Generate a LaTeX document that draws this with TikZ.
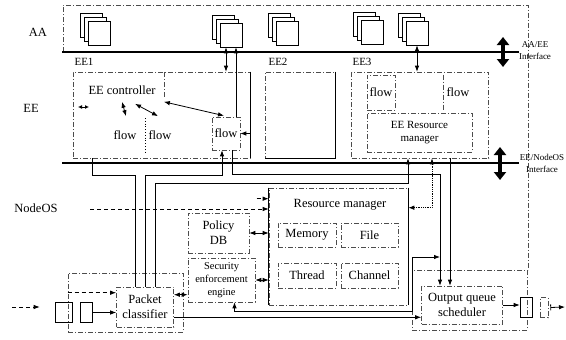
\documentclass[tikz,border=0pt]{standalone}
\usepackage{fontspec}
\setmainfont{Liberation Serif}
\usetikzlibrary{arrows.meta,calc,positioning}

\begin{document}
\begin{tikzpicture}[x=1pt,y=-1pt,thick,
  >={Latex[length=6pt,width=4.5pt]},
  txt/.style={font=\fontsize{12.5}{15}\selectfont,inner sep=1pt,align=center},
  eetxt/.style={font=\fontsize{11}{13}\selectfont,inner sep=1pt},
  iftxt/.style={font=\fontsize{9}{12}\selectfont,inner sep=0pt,align=center},
  dbox/.style={draw=black!70,dash pattern=on 5pt off 2pt on 1pt off 2pt,line width=0.6pt,inner sep=0pt},
  box/.style={dbox,txt},
  qbox/.style={draw,line width=0.6pt,inner sep=0pt,minimum height=20},
  app/.style={draw,fill=white,line width=0.6pt,minimum width=22,minimum height=24,inner sep=0pt},
  iface/.style={line width=1.4pt},
  fat/.style={line width=3.5pt,{Triangle[length=8pt,width=12pt]}-{Triangle[length=8pt,width=12pt]}},
  dline/.style={dash pattern=on 4pt off 3pt},
]
\useasboundingbox (0,0) rectangle (566,340);

% layers
\node[txt] (aa) at (38,32) {AA};
\node[txt] (ee) at (31,108) {EE};
\node[txt] (nos) at (36,208) {NodeOS};
\draw[dbox] (63,52) -- (63,5) -- (528,5) -- (528,270);

% active applications
\foreach \x/\y [count=\i] in {99/33,231/35,287/33,372/32,417/33}{
  \node[app] at ({\x-8},{\y-8}) {};
  \node[app] at ({\x-4},{\y-4}) {};
  \node[app] (app\i) at (\x,\y) {};
}

% interfaces
\node[iftxt] (ifa) at (535,51) {AA/EE\\Interface};
\node[iftxt] (ifb) at (542,163) {EE/NodeOS\\Interface};
\coordinate (aaL) at (62,52);
\coordinate (eeL) at (62,163);
\draw[iface] (aaL) -- (aaL -| ifa.west);
\draw[iface] (eeL) -- (eeL -| ifb.west);
\draw[fat] (503,37) -- (503,67);
\draw[fat] (500,147) -- (500,180);

% execution environments
\node[dbox,minimum width=177,minimum height=86] (ee1) at (161.5,115) {};
\draw (ee1.north east) -- (ee1.south east);
\node[dbox,minimum width=70,minimum height=86] (ee2) at (300,115) {};
\draw (ee2.north east) -- (ee2.south east) -- (ee2.south west);
\node[dbox,minimum width=137,minimum height=86] (ee3) at (420,115) {};
\node[eetxt] (ee1l) at (84,62) {EE1};
\node[eetxt] (ee2l) at (278,62) {EE2};
\node[eetxt] (ee3l) at (362,62) {EE3};

\node[txt] (eectl) at (122,90) {EE controller};
\draw[dbox] (164,72) -- (164,97);
\draw[<->,>={Latex[length=4pt,width=4pt]}] (78,107) -- (89,107);
\node[txt] (flowa) at (125,135) {flow};
\node[txt] (flowb) at (160,135) {flow};
\draw[dotted] (145,118) -- (145,152);
\node[box,minimum width=28,minimum height=33] (flowc) at (226,133.5) {flow};
\draw[<->] ($(eectl.south)+(0,6)$) -- ($(flowa.north)+(1,-13)$);
\draw[<->] ($(eectl.south)+(13,8)$) -- ($(flowb.north)+(-2,-13)$);
\draw[<->] ($(eectl.south east)+(7,6)$) -- ($(flowc.north)+(-2,-1)$);

\node[box,minimum width=28,minimum height=35] (fl3a) at (381,92.5) {flow};
\node[txt,minimum width=29,minimum height=35] (fl3b) at (458,92.5) {flow};
\draw[dbox] (fl3b.north west) -- (fl3b.south west);
\node[box,font=\fontsize{11}{13}\selectfont,minimum width=105,minimum height=39] (eerm) at (419.5,132.5) {EE Resource\\manager};

\coordinate (a2l) at ($(app2.south)+(-5,0)$);
\coordinate (a2r) at ($(app2.south)+(5,0)$);
\draw[<->] (a2l) -- (a2l |- ee1.north);
\draw[->] (a2r |- flowc.north) -- (a2r);
\draw[->] (ee1.east |- flowc.east) -- (flowc.east);
\draw[<->] (app5.south) -- (app5.south |- ee3.north);

% node OS
\node[dbox,minimum width=139,minimum height=117] (rm) at (338.5,246.5) {};
\draw (rm.north west) -- (rm.south west);
\draw (rm.north east) -- (rm.south east);
\node[txt] (rmtitle) at (340,205) {Resource manager};
\node[box,minimum width=58,minimum height=24] (mem) at (307,235) {Memory};
\node[box,minimum width=57,minimum height=24] (file) at (369.5,235) {File};
\node[box,minimum width=58,minimum height=25] (thr) at (307,275.5) {Thread};
\node[box,minimum width=57,minimum height=25] (chan) at (369.5,275.5) {Channel};

\node[box,minimum width=61,minimum height=40] (pdb) at (218.5,233) {Policy\\DB};
\node[box,font=\fontsize{10.5}{13}\selectfont,minimum width=67,minimum height=44] (see) at (221.5,280) {Security\\enforcement\\engine};
\draw[<->] (pdb.east) -- (pdb.east -| rm.west);
\draw[<->] (see.east) -- (see.east -| rm.west);

\node[box,minimum width=57,minimum height=40] (pc) at (145,307) {Packet\\classifier};
\node[dbox,minimum width=115,minimum height=59] (pcfrm) at (125.5,302.5) {};
\node[box,minimum width=81,minimum height=38] (oqs) at (462,305) {Output queue\\scheduler};
\node[dbox,minimum width=115,minimum height=60] (oqfrm) at (469.5,300) {};

% packet queues
\node[qbox,minimum width=17] (inq1) at (63.5,312.5) {};
\node[qbox,minimum width=12] (inq2) at (86,312.5) {};
\node[qbox,minimum width=12] (outq1) at (526,307.5) {};
\node[dbox,minimum width=8,minimum height=20] (outq2) at (544,307.5) {};
\coordinate (src) at (12,307);
\coordinate (dst) at (565,307);
\draw[->,dline,shorten >=15pt] (src) -- (src -| inq1.west);
\draw[->] (inq2.east) -- (inq2.east -| pc.west);
\draw[->] (oqs.east) -- (oqs.east -| outq1.west);
\draw[{Bar[width=6pt]}->] ($(outq2.east)+(2,0)$) -- (dst);

% data and control paths
\coordinate (pcin) at ($(pcfrm.north west)+(0,20)$);
\draw[->,dline] (pcin) -- (pcin -| pc.west);
\coordinate (pcse) at ($(pc.north east)+(0,8)$);
\draw[<->] (pcse) -- (pcse -| see.west);
\coordinate (pcout) at ($(pc.south east)+(0,-10)$);
\draw[->] (pcout) -- (pcout -| oqs.west);
\draw ($(ee1.south west)+(20,0)$) |- (135,175) -- ($(pc.north)+(-10,0)$);
\draw[->] (pc.north) |- (222,175) -- ($(flowc.south)+(-4,0)$);
\draw[->] ($(flowc.south)+(6,0)$) |- (440,174) -- ($(oqs.north)+(-22,0)$);
\draw[->] ($(pc.north)+(10,0)$) |- (408,183) -- ($(ee3.south)+(-12,0)$);
\draw[->] ($(ee3.south)+(30,0)$) -- ($(oqs.north)+(-12,0)$);
\draw[<->,densely dotted] ($(rm.north east)+(0,20)$) -| ($(ee3.south)+(12,0)$);
\draw[->,dline] ($(rm.north west)+(-12,11)$) -- ++(12,0);
\coordinate (nosd) at (90,209);
\draw[->,dline] (nosd) -- (nosd -| rm.west);
\draw[<->] ($(see.south)+(13,0)$) |- (412,311) |- (440,257);
\end{tikzpicture}
\end{document}
